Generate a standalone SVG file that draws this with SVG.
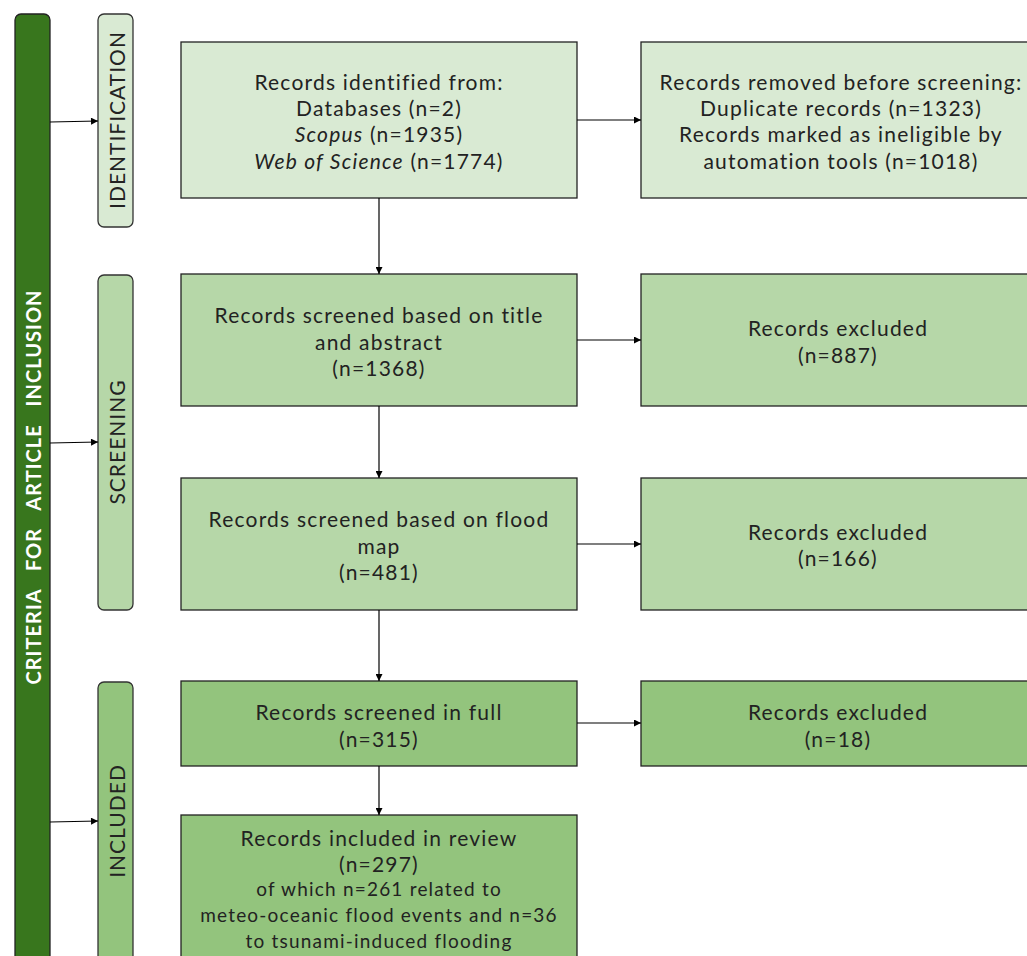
<svg xmlns="http://www.w3.org/2000/svg" width="1027" height="956" viewBox="0 0 1027 956">
<style>
.t{font-family:Lato,"Liberation Sans",sans-serif;font-size:21px;fill:#222;text-anchor:middle;dominant-baseline:central;letter-spacing:1.2px}
.s{font-size:19px}
.v{font-family:Lato,"Liberation Sans",sans-serif;font-size:21px;fill:#222;text-anchor:middle;dominant-baseline:central;letter-spacing:1px}
.b{stroke:#222;stroke-width:1.3}
.p{stroke:#333;stroke-width:1.3}
.c1{fill:#d9ead3}.c2{fill:#b6d7a8}.c3{fill:#93c47d}
.ln{stroke:#000;stroke-width:1.2;fill:none;marker-end:url(#ah)}
</style>
<defs>
<marker id="ah" viewBox="0 0 10 10" refX="10" refY="5" markerWidth="8" markerHeight="7" markerUnits="userSpaceOnUse" orient="auto">
<path d="M0,0L10,5L0,10z" fill="#000"/>
</marker>
</defs>
<rect width="1027" height="956" fill="#fff"/>
<g id="criteria">
<path d="M15,960V20a6,6 0 0 1 6,-6H44a6,6 0 0 1 6,6V960z" fill="#38761d" stroke="#222" stroke-width="1.3"/>
<text transform="translate(33,487) rotate(-90)" style="font-family:Lato,'Liberation Sans',sans-serif;font-weight:bold;font-size:20px;fill:#fff;text-anchor:middle;dominant-baseline:central;letter-spacing:1px;word-spacing:12px">CRITERIA FOR ARTICLE INCLUSION</text>
</g>
<g id="identification">
<rect x="98" y="14" width="35" height="213" rx="6" class="p c1"/>
<text class="v" transform="translate(116,120) rotate(-90)">IDENTIFICATION</text>
</g>
<g id="screening">
<rect x="98" y="275" width="35" height="335" rx="6" class="p c2"/>
<text class="v" transform="translate(116,442) rotate(-90)">SCREENING</text>
</g>
<g id="included">
<rect x="98" y="682" width="35" height="290" rx="6" class="p c3"/>
<text class="v" transform="translate(116,821) rotate(-90)">INCLUDED</text>
</g>
<g id="n1">
<rect x="181" y="42" width="396" height="156" class="b c1"/>
<text class="t" x="379" y="81">Records identified from:</text>
<text class="t" x="379" y="107">Databases (n=2)</text>
<text class="t" x="379" y="133"><tspan font-style="italic">Scopus</tspan> (n=1935)</text>
<text class="t" x="379" y="160"><tspan font-style="italic">Web of Science</tspan> (n=1774)</text>
</g>
<g id="n2">
<rect x="641" y="42" width="400" height="156" class="b c1"/>
<text class="t" x="841" y="81">Records removed before screening:</text>
<text class="t" x="841" y="107">Duplicate records (n=1323)</text>
<text class="t" x="841" y="133">Records marked as ineligible by</text>
<text class="t" x="841" y="160">automation tools (n=1018)</text>
</g>
<g id="n3">
<rect x="181" y="274" width="396" height="132" class="b c2"/>
<text class="t" x="379" y="314">Records screened based on title</text>
<text class="t" x="379" y="341">and abstract</text>
<text class="t" x="379" y="367">(n=1368)</text>
</g>
<g id="n4">
<rect x="641" y="274" width="400" height="132" class="b c2"/>
<text class="t" x="838" y="327">Records excluded</text>
<text class="t" x="838" y="354">(n=887)</text>
</g>
<g id="n5">
<rect x="181" y="478" width="396" height="132" class="b c2"/>
<text class="t" x="379" y="518">Records screened based on flood</text>
<text class="t" x="379" y="545">map</text>
<text class="t" x="379" y="571">(n=481)</text>
</g>
<g id="n6">
<rect x="641" y="478" width="400" height="132" class="b c2"/>
<text class="t" x="838" y="531">Records excluded</text>
<text class="t" x="838" y="557">(n=166)</text>
</g>
<g id="n7">
<rect x="181" y="681" width="396" height="85" class="b c3"/>
<text class="t" x="379" y="711">Records screened in full</text>
<text class="t" x="379" y="738">(n=315)</text>
</g>
<g id="n8">
<rect x="641" y="681" width="400" height="85" class="b c3"/>
<text class="t" x="838" y="711">Records excluded</text>
<text class="t" x="838" y="738">(n=18)</text>
</g>
<g id="n9">
<rect x="181" y="815" width="396" height="160" class="b c3"/>
<text class="t" x="379" y="837">Records included in review</text>
<text class="t" x="379" y="863">(n=297)</text>
<text class="t s" x="379" y="888">of which n=261 related to</text>
<text class="t s" x="379" y="914">meteo-oceanic flood events and n=36</text>
<text class="t s" x="379" y="940">to tsunami-induced flooding</text>
</g>
<g id="connectors">
<path class="ln" d="M50,122L98,121"/>
<path class="ln" d="M50,443L98,442"/>
<path class="ln" d="M50,822L98,821"/>
<path class="ln" d="M577,120H641"/>
<path class="ln" d="M577,340H641"/>
<path class="ln" d="M577,544H641"/>
<path class="ln" d="M577,723H641"/>
<path class="ln" d="M379,198V274"/>
<path class="ln" d="M379,406V478"/>
<path class="ln" d="M379,610V681"/>
<path class="ln" d="M379,766V815"/>
</g>
</svg>
